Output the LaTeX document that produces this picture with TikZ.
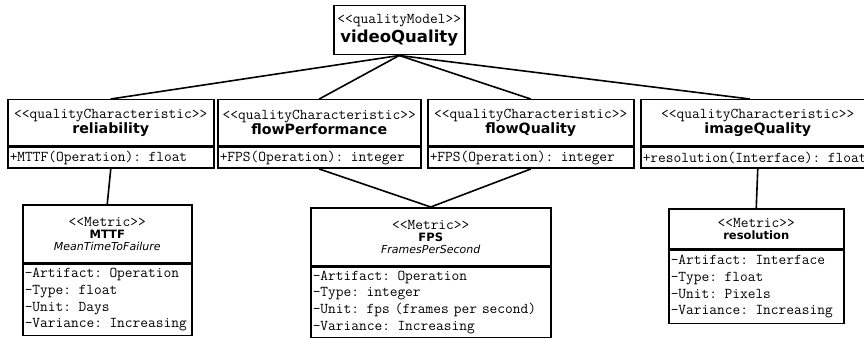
\documentclass[tikz,border=0pt]{standalone}
\usepackage{fontspec}
\newfontfamily\umlsans{DejaVu Sans}
\usetikzlibrary{positioning}

\newcommand\stereofont{\ttfamily\fontsize{15}{17}\selectfont}
\newcommand\attrfont{\ttfamily\fontsize{15}{16.7}\selectfont}
\newcommand\modelfont{\umlsans\bfseries\fontsize{16.5}{20}\selectfont}
\newcommand\charfont{\umlsans\bfseries\fontsize{14.2}{18}\selectfont}
\newcommand\metricfont{\umlsans\bfseries\fontsize{11.5}{15}\selectfont}
\newcommand\longfont{\umlsans\itshape\fontsize{11}{15}\selectfont}

\tikzset{
  classbox/.style={draw, line width=1.5pt, inner sep=0pt, anchor=north west, align=center},
  attrbox/.style={draw, line width=1.5pt, inner xsep=2pt, inner ysep=0pt, anchor=north west,
    align=left, font=\attrfont},
  link/.style={line width=1.6pt}
}

\begin{document}
\begin{tikzpicture}[x=1pt,y=-1pt]
          \useasboundingbox (0,0) rectangle (864,339);
          \clip (0,0) rectangle (864,339);
          % quality model
          \node[classbox, minimum width=131pt, minimum height=49pt] (vq) at (333,5)
            {{\stereofont <<qualityModel>>}\\[2pt]{\modelfont videoQuality}};
          % quality characteristics
          \node[classbox, minimum width=206pt, minimum height=46pt] (rel) at (7,99)
            {{\stereofont <<qualityCharacteristic>>}\\{\charfont reliability}};
          \node[attrbox, text width=202pt, minimum height=21pt] (relAttr) at (rel.south west)
            {+MTTF(Operation): float};
          \node[classbox, minimum width=203pt, minimum height=46pt] (flowPerf) at (217,99)
            {{\stereofont <<qualityCharacteristic>>}\\{\charfont flowPerformance}};
          \node[attrbox, text width=199pt, minimum height=21pt] (flowPerfAttr) at (flowPerf.south west)
            {+FPS(Operation): integer};
          \node[classbox, minimum width=206pt, minimum height=46pt] (flowQual) at (427,99)
            {{\stereofont <<qualityCharacteristic>>}\\{\charfont flowQuality}};
          \node[attrbox, text width=202pt, minimum height=21pt] (flowQualAttr) at (flowQual.south west)
            {+FPS(Operation): integer};
          \node[classbox, minimum width=234pt, minimum height=46pt] (imgQual) at (640,99)
            {{\stereofont <<qualityCharacteristic>>}\\{\charfont imageQuality}};
          \node[attrbox, text width=230pt, minimum height=21pt] (imgQualAttr) at (imgQual.south west)
            {+resolution(Interface): float};
          % metrics
          \node[classbox, minimum width=169pt, minimum height=58pt] (mttf) at (22,204)
            {{\stereofont <<Metric>>}\\{\metricfont MTTF}\\{\longfont MeanTimeToFailure}};
          \node[attrbox, text width=165pt, minimum height=71pt] (mttfAttr) at (mttf.south west)
            {-Artifact: Operation\\-Type: float\\-Unit: Days\\-Variance: Increasing};
          \node[classbox, minimum width=240pt, minimum height=58pt] (fps) at (310,207)
            {{\stereofont <<Metric>>}\\{\metricfont FPS}\\{\longfont FramesPerSecond}};
          \node[attrbox, text width=236pt, minimum height=70pt] (fpsAttr) at (fps.south west)
            {-Artifact: Operation\\-Type: integer\\-Unit: fps (frames per second)\\-Variance: Increasing};
          \node[classbox, minimum width=175pt, minimum height=40pt] (res) at (668,208)
            {{\stereofont <<Metric>>}\\{\metricfont resolution}};
          \node[attrbox, text width=171pt, minimum height=73pt] (resAttr) at (res.south west)
            {-Artifact: Interface\\-Type: float\\-Unit: Pixels\\-Variance: Increasing};
          % model to characteristics
          \draw[link] (vq.south) -- (rel.north);
          \draw[link] (vq.south) -- (flowPerf.north);
          \draw[link] (vq.south) -- (flowQual.north);
          \draw[link] (vq.south) -- ([xshift=-8pt]imgQual.north);
          % characteristics to metrics
          \draw[link] (relAttr.south) -- (mttf.north);
          \draw[link] (flowPerfAttr.south) -- (fps.north);
          \draw[link] (flowQualAttr.south) -- (fps.north);
          \draw[link] (imgQualAttr.south) -- (res.north);
        \end{tikzpicture}
\end{document}
